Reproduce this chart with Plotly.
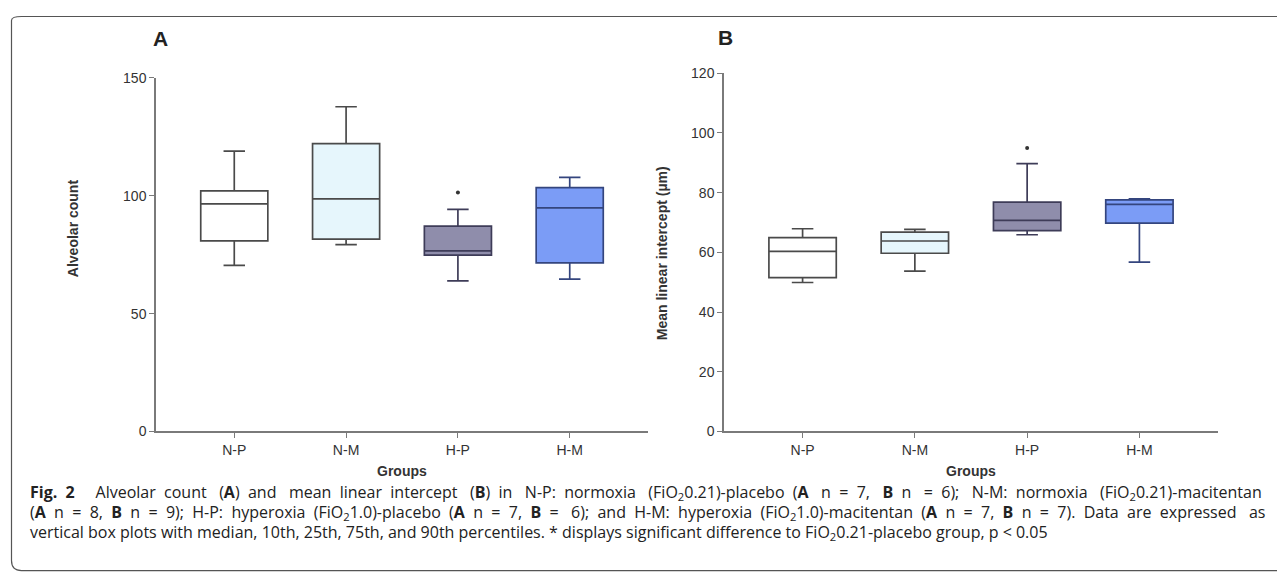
import plotly.graph_objects as go

W, H = 1285, 576

groups = ["N-P", "N-M", "H-P", "H-M"]
positions = [1, 2, 3, 4]

# Panel A: Alveolar count
a_low = [70.5, 79.3, 63.9, 64.6]
a_q1 = [80.9, 81.6, 74.8, 71.5]
a_med = [96.6, 98.7, 76.6, 94.9]
a_q3 = [102.1, 122.1, 87.1, 103.5]
a_high = [119.0, 137.8, 94.2, 107.8]
a_out_x = [3]
a_out_y = [101.4]

# Panel B: Mean linear intercept (µm)
b_low = [49.9, 53.7, 65.9, 56.7]
b_q1 = [51.5, 59.7, 67.3, 69.8]
b_med = [60.3, 63.8, 70.7, 76.1]
b_q3 = [64.9, 66.8, 76.8, 77.6]
b_high = [67.9, 67.7, 89.7, 77.9]
b_out_x = [3]
b_out_y = [95.0]

fills = ["#ffffff", "#e6f6fc", "#8f8dab", "#7b9cf6"]
lines = ["#4a4a4a", "#4a4a4a", "#3e3c58", "#34457e"]

a_ticks = [0, 50, 100, 150]
b_ticks = [0, 20, 40, 60, 80, 100, 120]


# map target screen pixel -> paper fraction (compensates page offset)
def px_x(s):
    return (s - 8) / W


def px_y(s):
    y = (s - 16.1) / 0.971
    y = min(max(y, 0.5), H - 0.5)
    return 1 - y / H


fig = go.Figure()

panels = [
    ("x", "y", a_low, a_q1, a_med, a_q3, a_high, a_out_x, a_out_y),
    ("x2", "y2", b_low, b_q1, b_med, b_q3, b_high, b_out_x, b_out_y),
]
for xa, ya, lo, q1, me, q3, hi, ox, oy in panels:
    for i, g in enumerate(groups):
        fig.add_trace(go.Box(
            x=[positions[i]], q1=[q1[i]], median=[me[i]], q3=[q3[i]],
            lowerfence=[lo[i]], upperfence=[hi[i]],
            width=0.6, whiskerwidth=0.32,
            fillcolor=fills[i], line=dict(color=lines[i], width=1.7),
            boxpoints=False, showlegend=False, name=g,
            xaxis=xa, yaxis=ya,
        ))
    fig.add_trace(go.Scatter(
        x=ox, y=oy, mode="markers",
        marker=dict(color="#333333", size=4),
        showlegend=False, xaxis=xa, yaxis=ya,
    ))

axis_common = dict(showline=True, linecolor="#7a7a7a", linewidth=1.5,
                   ticks="outside", ticklen=5, tickcolor="#7a7a7a", tickwidth=1.2,
                   showgrid=False, zeroline=False,
                   tickfont=dict(family="Liberation Sans, Arial", size=14, color="#333333"))

fig.update_layout(
    width=W, height=H,
    margin=dict(l=0, r=0, t=0, b=0),
    paper_bgcolor="white", plot_bgcolor="white",
    xaxis=dict(domain=[px_x(156), px_x(648)], range=[0.3, 4.7],
               tickvals=positions, ticktext=groups, anchor="y", **axis_common),
    yaxis=dict(domain=[px_y(431), px_y(78)], range=[0, 150],
               tickvals=a_ticks, anchor="x", **axis_common),
    xaxis2=dict(domain=[px_x(724), px_x(1218)], range=[0.3, 4.7],
                tickvals=positions, ticktext=groups, anchor="y2", **axis_common),
    yaxis2=dict(domain=[px_y(431), px_y(73.3)], range=[0, 120],
                tickvals=b_ticks, anchor="x2", **axis_common),
)

ann = []
lab_font = dict(family="Liberation Sans, Arial", size=14, color="#333333")
letter_font = dict(family="Liberation Sans, Arial", size=21, color="#222")


def add_ann(text, x, y, font, **kw):
    d = dict(text=text, x=px_x(x), y=px_y(y), xref="paper", yref="paper",
             showarrow=False, font=font, xanchor="center", yanchor="middle")
    d.update(kw)
    ann.append(d)


add_ann("<b>A</b>", 160, 39, letter_font)
add_ann("<b>B</b>", 725, 38, letter_font)
add_ann("<b>Alveolar count</b>", 73, 228, lab_font, textangle=-90)
add_ann("<b>Mean linear intercept (µm)</b>", 662, 253, lab_font, textangle=-90)
add_ann("<b>Groups</b>", 402, 471, lab_font)
add_ann("<b>Groups</b>", 971, 471, lab_font)

caption = [
    "<b>Fig. 2</b>  Alveolar count (<b>A</b>) and mean linear intercept (<b>B</b>) in N-P: normoxia (FiO<sub>2</sub>0.21)-placebo (<b>A</b> n = 7, <b>B</b> n = 6); N-M: normoxia (FiO<sub>2</sub>0.21)-macitentan",
    "(<b>A</b> n = 8, <b>B</b> n = 9); H-P: hyperoxia (FiO<sub>2</sub>1.0)-placebo (<b>A</b> n = 7, <b>B</b> = 6); and H-M: hyperoxia (FiO<sub>2</sub>1.0)-macitentan (<b>A</b> n = 7, <b>B</b> n = 7). Data are expressed as",
    "vertical box plots with median, 10th, 25th, 75th, and 90th percentiles. * displays significant difference to FiO<sub>2</sub>0.21-placebo group, p < 0.05",
]
# extra non-breaking spaces to imitate the justified lines
extra_spaces = [11, 2, 0]


def spread(line, extra):
    parts = line.split(" ")
    gaps = len(parts) - 1
    out = parts[0]
    for j, p in enumerate(parts[1:]):
        n = 2
        if extra and (j * extra) // gaps != ((j + 1) * extra) // gaps:
            n += 1
        out += "\u00a0" * n + p
    return out


cap_font = dict(family="Open Sans, Liberation Sans", size=16, color="#222")
for k, line in enumerate(caption):
    if k < 2:
        line = spread(line, extra_spaces[k])
    add_ann(line, 28, 492 + 20 * k, cap_font, xanchor="left")
fig.update_layout(annotations=ann)

# rounded frame
r = 10
xl, yt, yb = 11.5, 10.5, 570
path = (f"M 1.05,{px_y(yt)} L {px_x(xl + r)},{px_y(yt)} Q {px_x(xl)},{px_y(yt)} {px_x(xl)},{px_y(yt + r)} "
        f"L {px_x(xl)},{px_y(yb - r)} Q {px_x(xl)},{px_y(yb)} {px_x(xl + r)},{px_y(yb)} L 1.05,{px_y(yb)}")
fig.add_shape(type="path", path=path, xref="paper", yref="paper",
              line=dict(color="#555555", width=1.2))

fig.write_html("out.html")
